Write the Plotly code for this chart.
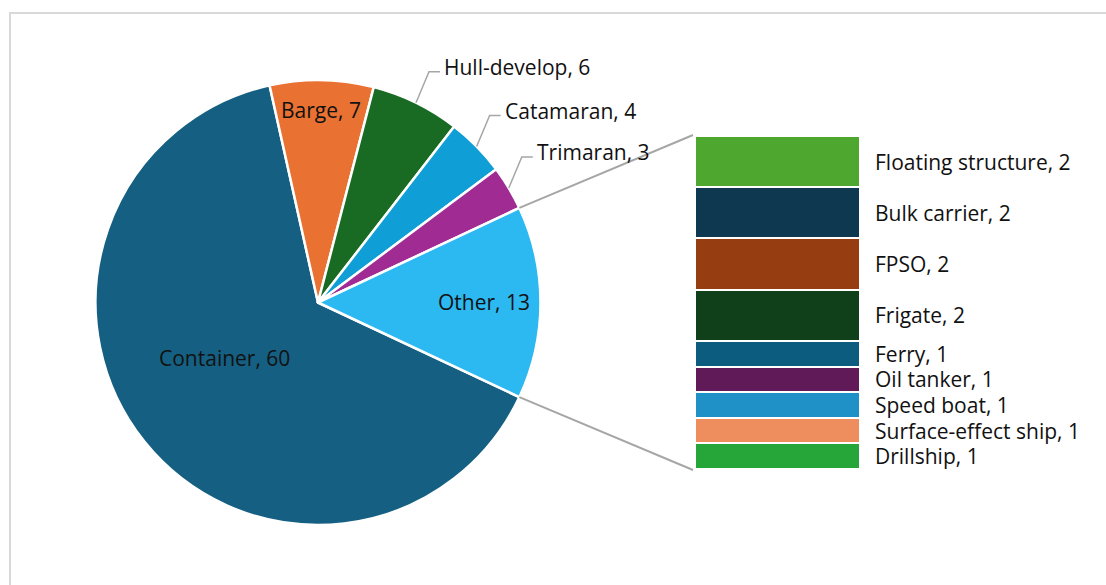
import math
import plotly.graph_objects as go

# ---- data -------------------------------------------------------------
pie_labels = ["Container", "Barge", "Hull-develop", "Catamaran", "Trimaran", "Other"]
pie_values = [60, 7, 6, 4, 3, 13]
pie_colors = ["#156082", "#E97132", "#196B24", "#0F9ED5", "#A02B93", "#2CB8F0"]

other_labels = ["Floating structure", "Bulk carrier", "FPSO", "Frigate", "Ferry",
                "Oil tanker", "Speed boat", "Surface-effect ship", "Drillship"]
other_values = [2, 2, 2, 2, 1, 1, 1, 1, 1]
other_colors = ["#4EA72E", "#0E3850", "#963D11", "#10401A", "#0B5C7F",
                "#601A58", "#1F91C7", "#EE8E5E", "#26A539"]

# ---- layout constants (pixels) ---------------------------------------
W, H = 1106, 585
CX, CY, R = 318, 302.5, 222.5          # pie centre and radius
BAR_X0, BAR_X1 = 695, 860               # secondary bar, horizontal extent
BAR_Y0, BAR_Y1 = 136, 469               # secondary bar, vertical extent
FONT = dict(family="Open Sans, Arial, sans-serif", size=21, color="#111111")
LINE_GREY = "#A6A6A6"

# label placement inside slices: (angle offset from mid-angle in degrees, radius fraction)
inside_spot = {"Container": (8.0, 0.49), "Barge": (0.0, 0.865), "Other": (0.0, 0.745)}


def px(x):
    return x / W


def py(y):
    return 1 - y / H


def on_circle(angle_deg, rad):
    """Point at a clockwise angle from 12 o'clock, in pixel coordinates."""
    a = math.radians(angle_deg)
    return CX + rad * math.sin(a), CY - rad * math.cos(a)


total = sum(pie_values)
other_share = pie_values[-1] / total
# the last slice ("Other") is centred on 3 o'clock
rotation = 90 + other_share * 180

# slice angles (clockwise from 12 o'clock)
starts, ends = [], []
acc = rotation
for v in pie_values:
    starts.append(acc)
    acc += v / total * 360
    ends.append(acc)

fig = go.Figure()

fig.add_trace(go.Pie(
    labels=pie_labels, values=pie_values, sort=False, direction="clockwise",
    rotation=rotation, textinfo="none", hoverinfo="label+value",
    marker=dict(colors=pie_colors, line=dict(color="white", width=2.5)),
    domain=dict(x=[px(CX - R), px(CX + R)], y=[py(CY + R), py(CY - R)]),
    showlegend=False,
))

# secondary stacked bar for the "Other" breakdown (top to bottom)
for lab, val, col in zip(other_labels, other_values, other_colors):
    fig.add_trace(go.Bar(
        x=[0.5], y=[val], width=[1], name=lab, orientation="v",
        marker=dict(color=col, line=dict(color="white", width=2.5)),
        showlegend=False, hoverinfo="name+y",
    ))

annotations = []
shapes = []

# pie slice labels
for lab, val, s, e in zip(pie_labels, pie_values, starts, ends):
    mid = (s + e) / 2
    text = f"{lab}, {val}"
    if lab in inside_spot:
        d_ang, frac = inside_spot[lab]
        x, y = on_circle(mid + d_ang, R * frac)
        annotations.append(dict(x=px(x), y=py(y), xref="paper", yref="paper",
                                text=text, showarrow=False, font=FONT,
                                xanchor="center", yanchor="middle"))
    else:
        ex, ey = on_circle(mid, R)
        bx, by = ex + 13, ey - 31
        hx = bx + 11
        shapes.append(dict(type="path", xref="paper", yref="paper",
                           path=f"M {px(ex)} {py(ey)} L {px(bx)} {py(by)} L {px(hx)} {py(by)}",
                           line=dict(color=LINE_GREY, width=1.5)))
        annotations.append(dict(x=px(hx + 2), y=py(by - 5), xref="paper", yref="paper",
                                text=text, showarrow=False, font=FONT,
                                xanchor="left", yanchor="middle"))

# secondary bar labels
cum = 0
for lab, val in zip(other_labels, other_values):
    annotations.append(dict(x=1, y=cum + val / 2, xref="x", yref="y",
                            text=f"{lab}, {val}", showarrow=False, font=FONT,
                            xanchor="left", yanchor="middle", xshift=14, borderpad=0))
    cum += val

# connector lines from the "Other" slice edges to the bar corners
ux, uy = on_circle(starts[-1], R)
lx, ly = on_circle(ends[-1], R)
shapes.append(dict(type="line", xref="paper", yref="paper",
                   x0=px(ux), y0=py(uy), x1=px(BAR_X0 - 2), y1=py(BAR_Y0 - 1),
                   line=dict(color=LINE_GREY, width=2)))
shapes.append(dict(type="line", xref="paper", yref="paper",
                   x0=px(lx), y0=py(ly), x1=px(BAR_X0 - 2), y1=py(BAR_Y1 + 1),
                   line=dict(color=LINE_GREY, width=2)))

# chart frame
shapes.append(dict(type="rect", xref="paper", yref="paper",
                   x0=px(10), y0=py(13), x1=px(W + 5), y1=py(H + 5),
                   line=dict(color="#D9D9D9", width=2), layer="below"))

fig.update_layout(
    width=W, height=H, margin=dict(l=0, r=0, t=0, b=0),
    paper_bgcolor="white", plot_bgcolor="rgba(0,0,0,0)",
    barmode="stack", bargap=0,
    xaxis=dict(domain=[px(BAR_X0), px(BAR_X1)], range=[0, 1], visible=False, fixedrange=True),
    yaxis=dict(domain=[py(BAR_Y1), py(BAR_Y0)], range=[sum(other_values), 0],
               visible=False, fixedrange=True),
    annotations=annotations, shapes=shapes,
    font=FONT,
)

fig.write_html("out.html")
